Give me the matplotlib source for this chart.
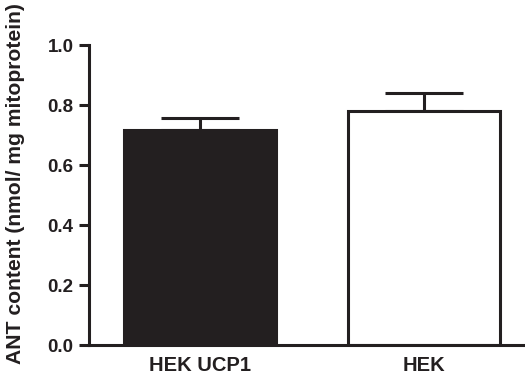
import matplotlib
matplotlib.use("Agg")
import matplotlib.pyplot as plt

# ANT content per group (mean and SEM)
groups = ["HEK UCP1", "HEK"]
means = [0.716, 0.781]
sems = [0.041, 0.060]
fills = ["#231f20", "white"]

ink = "#231f20"
plt.rcParams["font.family"] = ["Liberation Sans", "DejaVu Sans"]
plt.rcParams["font.weight"] = "bold"

fig = plt.figure(figsize=(5.25, 3.75), dpi=100)
ax = fig.add_axes([89 / 525, 30 / 375, 436 / 525, 300 / 375])

xs = list(range(len(groups)))

# upper error bars only, drawn behind the bars
ax.errorbar(xs, means, yerr=[[0] * len(sems), sems], fmt="none",
            ecolor=ink, elinewidth=2.2, capsize=28, capthick=2.2, zorder=1)
ax.bar(xs, means, width=0.68, color=fills, edgecolor=ink, linewidth=2.2,
       zorder=2)

ax.set_xlim(-0.4955, 1.451)
ax.set_ylim(0, 1.0)
ax.set_yticks([0.0, 0.2, 0.4, 0.6, 0.8, 1.0])
ax.set_yticklabels(["0.0", "0.2", "0.4", "0.6", "0.8", "1.0"])
ax.set_xticks(xs)
ax.set_xticklabels(groups)

for side in ("top", "right"):
    ax.spines[side].set_visible(False)
for side in ("left", "bottom"):
    ax.spines[side].set_linewidth(2.2)
    ax.spines[side].set_color(ink)
    ax.spines[side].set_capstyle("projecting")

ax.tick_params(axis="y", length=7, width=2.2, color=ink, pad=4,
               labelsize=13.5, labelcolor=ink)
ax.tick_params(axis="x", length=0, pad=8, labelsize=14.5, labelcolor=ink)

fig.text(16 / 525, 1 - 184 / 375, "ANT content (nmol/ mg mitoprotein)",
         rotation=90, ha="center", va="center", fontsize=15.2,
         fontweight="bold", color=ink)

fig.savefig("out.png", dpi=100)
